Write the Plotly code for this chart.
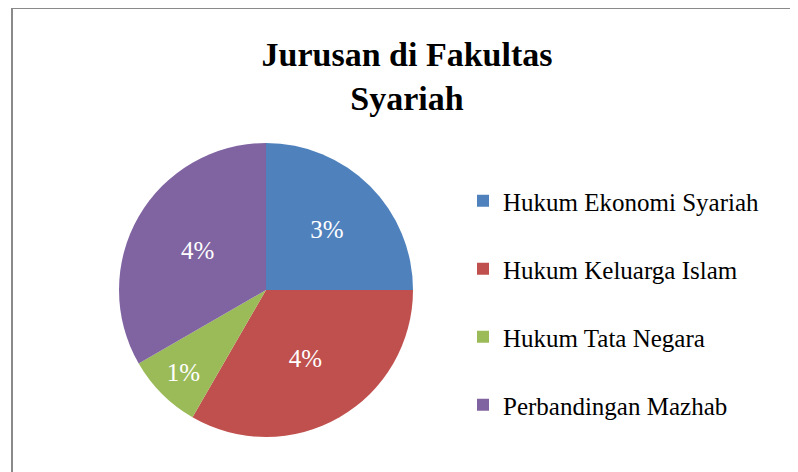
import plotly.graph_objects as go

jurusan = ["Hukum Ekonomi Syariah", "Hukum Keluarga Islam",
           "Hukum Tata Negara", "Perbandingan Mazhab"]
nilai = [3, 4, 1, 4]
label_persen = ["3%", "4%", "1%", "4%"]
warna = ["#4F81BD", "#C0504D", "#9BBB59", "#8064A2"]

W, H = 798, 472
# page body adds 8px; positions below are in figure pixels
cx, cy, r = 258, 282, 147

fig = go.Figure(go.Pie(
    labels=[j + "<br> " for j in jurusan],  # blank 2nd line to widen legend spacing
    values=nilai,
    text=label_persen,
    textinfo="text",
    textposition="inside",
    insidetextorientation="horizontal",
    textfont=dict(family="Liberation Serif", size=25, color="white"),
    marker=dict(colors=warna, line=dict(width=0)),
    sort=False,
    direction="clockwise",
    rotation=0,
    domain=dict(x=[(cx - r) / W, (cx + r) / W], y=[1 - (cy + r) / H, 1 - (cy - r) / H]),
))

fig.update_layout(
    width=W, height=H,
    margin=dict(l=0, r=0, t=0, b=0),
    paper_bgcolor="white",
    title=dict(
        text="<b>Jurusan di Fakultas<br>Syariah</b>",
        x=0.5, xanchor="center", y=1 - 58 / H, yanchor="top",
        font=dict(family="Liberation Serif", size=34, color="black"),
    ),
    legend=dict(
        x=455 / W, xanchor="left", y=1 - 170 / H, yanchor="top",
        valign="top",
        font=dict(family="Liberation Serif", size=25, color="black"),
        bgcolor="rgba(0,0,0,0)",
    ),
    shapes=[dict(type="rect", xref="paper", yref="paper",
                 x0=4 / W, x1=1.05, y0=-0.05, y1=1,
                 line=dict(color="#8a8a8a", width=2))],
)

fig.write_html("out.html")
